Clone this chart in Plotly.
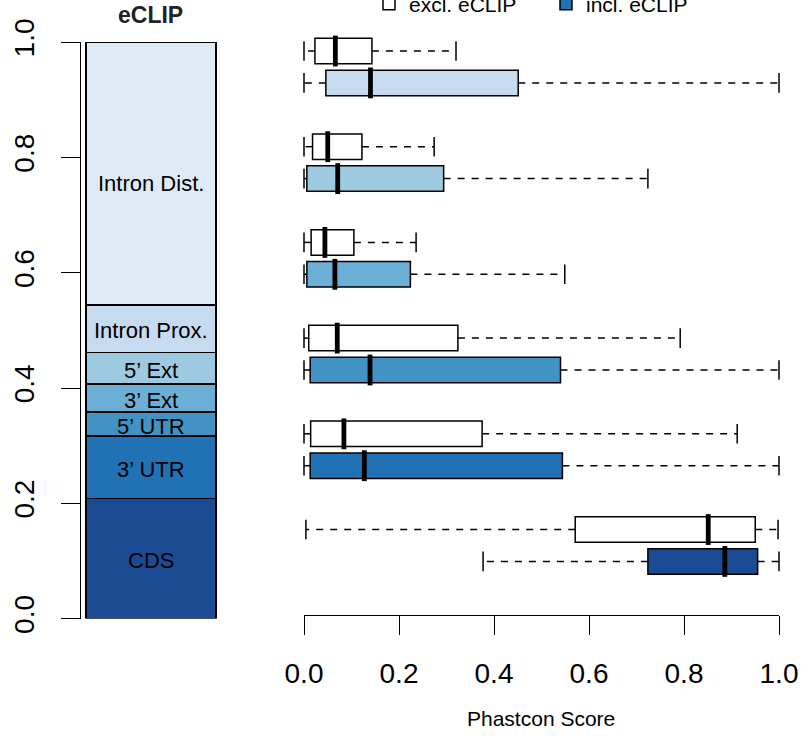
import plotly.graph_objects as go

# ---------------- data ----------------
regions = ["CDS", "3’ UTR", "5’ UTR", "3’ Ext", "5’ Ext", "Intron Prox.", "Intron Dist."]
region_frac = [0.208, 0.109, 0.041, 0.049, 0.055, 0.082, 0.456]
region_colors = ["#1b4b93", "#2171b5", "#4292c6", "#6baed6", "#9ecae1", "#c6dbef", "#deebf7"]

groups = ["Intron", "5’ Ext", "3’ Ext", "5’ UTR", "3’ UTR", "CDS"]  # top to bottom
group_colors = ["#c6dbef", "#9ecae1", "#6baed6", "#4292c6", "#2171b5", "#1b4b93"]

excl_lo = [0.000, 0.000, 0.000, 0.000, 0.000, 0.004]
excl_q1 = [0.023, 0.018, 0.015, 0.010, 0.014, 0.571]
excl_med = [0.066, 0.050, 0.044, 0.070, 0.084, 0.851]
excl_q3 = [0.143, 0.122, 0.105, 0.324, 0.375, 0.950]
excl_hi = [0.320, 0.274, 0.236, 0.792, 0.912, 0.998]

incl_lo = [0.000, 0.000, 0.000, 0.000, 0.000, 0.377]
incl_q1 = [0.046, 0.006, 0.006, 0.013, 0.013, 0.724]
incl_med = [0.140, 0.071, 0.065, 0.139, 0.127, 0.886]
incl_q3 = [0.451, 0.294, 0.224, 0.540, 0.544, 0.955]
incl_hi = [1.000, 0.724, 0.549, 1.000, 1.000, 1.000]

xticks = [0.0, 0.2, 0.4, 0.6, 0.8, 1.0]
xtick_text = ["0.0", "0.2", "0.4", "0.6", "0.8", "1.0"]

FONT = "Liberation Sans, Arial, Helvetica, sans-serif"
W, H = 808, 736

def px_x(p):
    return p / W

def px_y(p):
    return 1 - p / H

fig = go.Figure()

# ---------------- left: stacked bar ----------------
for name, frac, col in zip(regions, region_frac, region_colors):
    fig.add_trace(go.Bar(
        x=[0], y=[frac], width=1, name=name,
        marker=dict(color=col, line=dict(color="black", width=1.5)),
        xaxis="x", yaxis="y", showlegend=False, hoverinfo="skip",
    ))

annotations = []
cum = 0.0
for name, frac in zip(regions, region_frac):
    mid = cum + frac / 2
    cum += frac
    annotations.append(dict(
        x=0, y=mid, xref="x", yref="y", text=name, showarrow=False,
        font=dict(family=FONT, size=22, color="black"),
        xanchor="center", yanchor="middle",
        yshift=-10 if name == "Intron Dist." else -2,
    ))

# ---------------- right: boxplots ----------------
pos_excl = [3 * i + 1 for i in range(len(groups))]
pos_incl = [3 * i + 2 for i in range(len(groups))]

fig.add_trace(go.Box(
    orientation="h", y=pos_excl, q1=excl_q1, median=excl_med, q3=excl_q3,
    lowerfence=excl_q1, upperfence=excl_q3, width=0.8,
    fillcolor="white", line=dict(color="black", width=1.5),
    whiskerwidth=0, boxpoints=False, name="excl. eCLIP",
    xaxis="x2", yaxis="y2", hoverinfo="skip", showlegend=True,
))
for i in range(len(groups)):
    fig.add_trace(go.Box(
        orientation="h", y=[pos_incl[i]], q1=[incl_q1[i]], median=[incl_med[i]],
        q3=[incl_q3[i]], lowerfence=[incl_q1[i]], upperfence=[incl_q3[i]], width=0.8,
        fillcolor=group_colors[i], line=dict(color="black", width=1.5),
        whiskerwidth=0, boxpoints=False, name="incl. eCLIP",
        xaxis="x2", yaxis="y2", hoverinfo="skip", showlegend=(i == 4),
    ))

# whiskers (dashed), caps and thick medians
wx, wy, cx, cy, mx, my = [], [], [], [], [], []
for lo, q1, med, q3, hi, pos in list(zip(excl_lo, excl_q1, excl_med, excl_q3, excl_hi, pos_excl)) + \
        list(zip(incl_lo, incl_q1, incl_med, incl_q3, incl_hi, pos_incl)):
    wx += [q1, lo, None, q3, hi, None]
    wy += [pos, pos, None, pos, pos, None]
    cx += [lo, hi]
    cy += [pos, pos]
    mx.append(med)
    my.append(pos)

fig.add_trace(go.Scatter(
    x=wx, y=wy, mode="lines", line=dict(color="black", width=1.5, dash="7px,7px"),
    xaxis="x2", yaxis="y2", showlegend=False, hoverinfo="skip",
))
fig.add_trace(go.Scatter(
    x=cx, y=cy, mode="markers", cliponaxis=False,
    marker=dict(symbol="line-ns", size=14, line=dict(color="black", width=1.5)),
    xaxis="x2", yaxis="y2", showlegend=False, hoverinfo="skip",
))
fig.add_trace(go.Scatter(
    x=mx, y=my, mode="markers", cliponaxis=False,
    marker=dict(symbol="line-ns", size=22, line=dict(color="black", width=4.8)),
    xaxis="x2", yaxis="y2", showlegend=False, hoverinfo="skip",
))

annotations.append(dict(
    x=px_x(150), y=px_y(15), xref="paper", yref="paper", text="<b>eCLIP</b>",
    showarrow=False, font=dict(family=FONT, size=23, color="#222222"),
    xanchor="center", yanchor="middle",
))
annotations.append(dict(
    x=px_x(541), y=px_y(718), xref="paper", yref="paper", text="Phastcon Score",
    showarrow=False, font=dict(family=FONT, size=21, color="black"),
    xanchor="center", yanchor="middle",
))

fig.update_layout(
    width=W, height=H,
    margin=dict(l=0, r=0, t=0, b=0, autoexpand=False),
    paper_bgcolor="white", plot_bgcolor="white",
    barmode="stack", boxmode="overlay",
    font=dict(family=FONT, color="black"),
    xaxis=dict(domain=[px_x(81), px_x(221)], range=[-0.5385, 0.5385], visible=False,
               fixedrange=True),
    yaxis=dict(domain=[px_y(618.6), px_y(42.1)], range=[0, 1], anchor="x",
               tickvals=xticks, ticktext=xtick_text, tickangle=-90,
               ticks="outside", ticklen=19, tickwidth=1.3, tickcolor="black",
               showline=True, linewidth=1.3, linecolor="black",
               showgrid=False, zeroline=False, ticklabelstandoff=16,
               tickfont=dict(family=FONT, size=28, color="black")),
    xaxis2=dict(domain=[px_x(304), px_x(779)], range=[0, 1], anchor="y2",
                tickvals=xticks, ticktext=xtick_text,
                ticks="outside", ticklen=19, tickwidth=1.3, tickcolor="black",
                showline=True, linewidth=1.3, linecolor="black",
                showgrid=False, zeroline=False, ticklabelstandoff=14,
                tickfont=dict(family=FONT, size=28, color="black")),
    yaxis2=dict(domain=[px_y(615), px_y(30)], range=[18.68, 0.342], anchor="x2",
                visible=False),
    legend=dict(orientation="h", x=px_x(369), xanchor="left", y=px_y(4),
                yanchor="middle", bgcolor="rgba(0,0,0,0)",
                entrywidth=132, entrywidthmode="pixels",
                font=dict(family=FONT, size=21, color="black"),
                traceorder="normal"),
    annotations=annotations,
    showlegend=True,
)

fig.write_html(
    "out.html",
    config={"displayModeBar": False},
    post_script="document.body.style.margin='0px';document.body.style.overflow='hidden';",
)
